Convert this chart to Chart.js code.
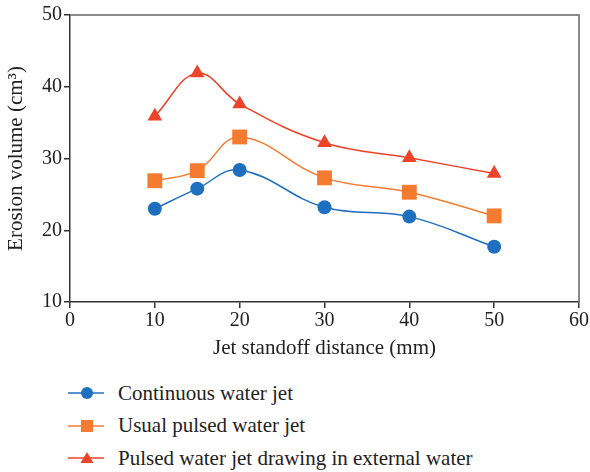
<!DOCTYPE html>
<html>
<head>
<meta charset="utf-8">
<script src="https://cdn.jsdelivr.net/npm/chart.js@4"></script>
<style>
  body { margin: 0; background: #fff; }
  #wrap { position: relative; width: 590px; height: 472px; }
  #legend { position: absolute; left: 68px; top: 377px; font-family: "Liberation Serif", serif; font-size: 21px; color: #222; }
  .item { display: flex; align-items: center; height: 32.5px; }
  .item svg { margin-right: 14px; }
</style>
</head>
<body>
<div id="wrap">
  <canvas id="erosionChart" width="590" height="365"></canvas>
  <div id="legend"></div>
</div>
<script>
// data
const distances = [10, 15, 20, 30, 40, 50];
const continuousJet = [23.0, 25.8, 28.4, 23.2, 21.9, 17.7];
const usualPulsedJet = [26.9, 28.3, 33.0, 27.3, 25.3, 22.0];
const externalWaterJet = [35.9, 41.9, 37.6, 32.2, 30.1, 27.9];
const seriesNames = [
  "Continuous water jet",
  "Usual pulsed water jet",
  "Pulsed water jet drawing in external water",
];
const xTicks = [0, 10, 20, 30, 40, 50, 60];
const yTicks = [10, 20, 30, 40, 50];

const colors = ["#1f6fc0", "#f57b30", "#ec4329"];
const shapes = ["circle", "rect", "triangle"];
const radii = [7, 10.5, 8.5];

const toPoints = (vals) => vals.map((v, i) => ({ x: distances[i], y: v }));
const allSeries = [continuousJet, usualPulsedJet, externalWaterJet];

const tickFont = { family: "'Liberation Serif', serif", size: 20 };
const titleFont = { family: "'Liberation Serif', serif", size: 21 };

// box around the plot area (top and right edges)
const frame = {
  id: "frame",
  afterDraw(chart) {
    const { ctx, chartArea: a } = chart;
    ctx.save();
    ctx.strokeStyle = "#666";
    ctx.lineWidth = 1.5;
    ctx.beginPath();
    ctx.moveTo(a.left, a.top);
    ctx.lineTo(a.right, a.top);
    ctx.lineTo(a.right, a.bottom);
    ctx.stroke();
    ctx.restore();
  },
};

const ctx = document.getElementById("erosionChart").getContext("2d");
const chart = new Chart(ctx, {
  type: "line",
  data: {
    datasets: allSeries.map((vals, i) => ({
      label: seriesNames[i],
      data: toPoints(vals),
      borderColor: colors[i],
      backgroundColor: colors[i],
      borderWidth: 1.5,
      pointStyle: shapes[i],
      pointRadius: radii[i],
      pointBorderWidth: 0,
      tension: 0.4,
    })),
  },
  options: {
    responsive: false,
    animation: false,
    layout: { padding: { top: 15, right: 11, left: 0, bottom: 0 } },
    plugins: { legend: { display: false }, tooltip: { enabled: false } },
    scales: {
      x: {
        type: "linear",
        min: 0,
        max: 60,
        afterBuildTicks: (s) => { s.ticks = xTicks.map((v) => ({ value: v })); },
        afterFit: (s) => { s.height = 63; },
        ticks: { font: tickFont, color: "#222", padding: 1 },
        grid: { drawOnChartArea: false, tickLength: 6, color: "#333", lineWidth: 1.5 },
        border: { color: "#333", width: 1.5 },
        title: { display: true, text: "Jet standoff distance (mm)", font: titleFont, color: "#222", padding: { top: 2 } },
      },
      y: {
        min: 10,
        max: 50,
        afterBuildTicks: (s) => { s.ticks = yTicks.map((v) => ({ value: v })); },
        afterFit: (s) => { s.width = 70; },
        ticks: { font: tickFont, color: "#222", padding: 2 },
        grid: { drawOnChartArea: false, tickLength: 6, color: "#333", lineWidth: 1.5 },
        border: { color: "#333", width: 1.5 },
        title: { display: true, text: "Erosion volume (cm³)", font: titleFont, color: "#222", padding: { bottom: 2 } },
      },
    },
  },
  plugins: [frame],
});

// vertical legend under the plot
const legend = document.getElementById("legend");
chart.data.datasets.forEach((ds, i) => {
  const c = colors[i];
  let marker;
  if (shapes[i] === "circle") marker = `<circle cx="19" cy="8" r="6" fill="${c}"/>`;
  else if (shapes[i] === "rect") marker = `<rect x="13" y="2" width="12" height="12" fill="${c}"/>`;
  else marker = `<polygon points="19,2 25.5,13 12.5,13" fill="${c}"/>`;
  const row = document.createElement("div");
  row.className = "item";
  row.innerHTML = `<svg width="36" height="16"><line x1="0" y1="8" x2="36" y2="8" stroke="${c}" stroke-width="1.5"/>${marker}</svg><span>${ds.label}</span>`;
  legend.appendChild(row);
});
</script>
</body>
</html>
